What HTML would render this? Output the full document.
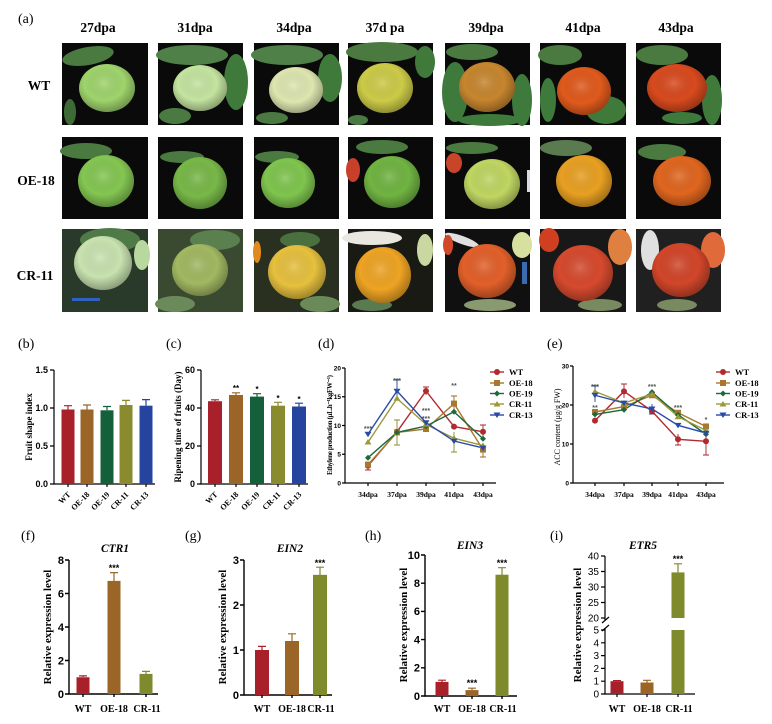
<!DOCTYPE html>
<html><head><meta charset="utf-8"><style>
html,body{margin:0;padding:0;background:#fff;}
svg{display:block;}
.s{font-family:"Liberation Serif",serif;}
.b{font-family:"Liberation Serif",serif;font-weight:bold;}
.t{font-family:"Liberation Sans",sans-serif;font-weight:bold;}
</style></head><body>
<svg width="772" height="724" viewBox="0 0 772 724" xmlns="http://www.w3.org/2000/svg">
<defs>
<radialGradient id="sh" cx="0.45" cy="0.4" r="0.6">
<stop offset="0" stop-color="#fff" stop-opacity="0.18"/>
<stop offset="0.6" stop-color="#000" stop-opacity="0"/>
<stop offset="1" stop-color="#000" stop-opacity="0.3"/>
</radialGradient>
</defs>
<rect width="772" height="724" fill="#fff"/>

<!-- (a) headers -->
<text x="18" y="23" class="s" font-size="14">(a)</text>
<g class="b" font-size="13.5" text-anchor="middle">
<text x="98" y="32">27dpa</text><text x="195" y="32">31dpa</text><text x="294" y="32">34dpa</text>
<text x="385" y="32">37d pa</text><text x="486" y="32">39dpa</text><text x="583" y="32">41dpa</text><text x="676" y="32">43dpa</text>
<text x="39" y="90">WT</text><text x="36" y="185">OE-18</text><text x="35" y="280">CR-11</text>
</g>

<!-- Row 1 -->
<g>
<rect x="62" y="43" width="86" height="82" fill="#0a0a0a"/>
<ellipse cx="88" cy="56" rx="26" ry="9" fill="#4a7a40" transform="rotate(-10 88 56)"/>
<ellipse cx="70" cy="112" rx="6" ry="13" fill="#3e6a36"/>
<ellipse cx="107" cy="88" rx="28" ry="24" fill="#9fd46c"/><ellipse cx="107" cy="88" rx="28" ry="24" fill="url(#sh)"/>

<rect x="158" y="43" width="85" height="82" fill="#0a0a0a"/>
<ellipse cx="192" cy="55" rx="36" ry="10" fill="#4f8048"/>
<ellipse cx="236" cy="82" rx="12" ry="28" fill="#3f7a3a"/>
<ellipse cx="175" cy="116" rx="16" ry="8" fill="#4a7a42"/>
<ellipse cx="200" cy="88" rx="27" ry="23" fill="#c4e4a0"/><ellipse cx="200" cy="88" rx="27" ry="23" fill="url(#sh)"/>

<rect x="254" y="43" width="85" height="82" fill="#0a0a0a"/>
<ellipse cx="287" cy="55" rx="36" ry="10" fill="#4f8048"/>
<ellipse cx="330" cy="78" rx="12" ry="24" fill="#3f7a3a"/>
<ellipse cx="272" cy="118" rx="16" ry="6" fill="#4a7a42"/>
<ellipse cx="296" cy="90" rx="27" ry="23" fill="#dde6b0"/><ellipse cx="296" cy="90" rx="27" ry="23" fill="url(#sh)"/>

<rect x="348" y="43" width="85" height="82" fill="#0a0a0a"/>
<ellipse cx="382" cy="52" rx="36" ry="10" fill="#4a7a40"/>
<ellipse cx="425" cy="62" rx="10" ry="16" fill="#3f7a3a"/>
<ellipse cx="358" cy="120" rx="10" ry="5" fill="#4a7a42"/>
<ellipse cx="385" cy="88" rx="28" ry="25" fill="#cccb48"/><ellipse cx="385" cy="88" rx="28" ry="25" fill="url(#sh)"/>

<rect x="445" y="43" width="85" height="82" fill="#0a0a0a"/>
<ellipse cx="455" cy="92" rx="13" ry="30" fill="#3d7a3c"/>
<ellipse cx="522" cy="100" rx="10" ry="26" fill="#3d7a3c"/>
<ellipse cx="472" cy="52" rx="26" ry="8" fill="#4a7a40"/>
<ellipse cx="490" cy="120" rx="32" ry="6" fill="#3d7a3c"/>
<ellipse cx="487" cy="87" rx="28" ry="25" fill="#c7862f"/><ellipse cx="487" cy="87" rx="28" ry="25" fill="url(#sh)"/>

<rect x="540" y="43" width="86" height="82" fill="#0a0a0a"/>
<ellipse cx="606" cy="110" rx="20" ry="14" fill="#3f7a3a"/>
<ellipse cx="560" cy="55" rx="22" ry="10" fill="#4a7a40"/>
<ellipse cx="548" cy="100" rx="8" ry="22" fill="#3d7a3c"/>
<ellipse cx="584" cy="91" rx="27" ry="24" fill="#e05a1c"/><ellipse cx="584" cy="91" rx="27" ry="24" fill="url(#sh)"/>

<rect x="636" y="43" width="85" height="82" fill="#0a0a0a"/>
<ellipse cx="712" cy="100" rx="10" ry="25" fill="#3f7a3a"/>
<ellipse cx="662" cy="55" rx="26" ry="10" fill="#4a7a40"/>
<ellipse cx="682" cy="118" rx="20" ry="6" fill="#3d7a3c"/>
<ellipse cx="677" cy="88" rx="30" ry="24" fill="#d84a1e"/><ellipse cx="677" cy="88" rx="30" ry="24" fill="url(#sh)"/>
</g>

<!-- Row 2 -->
<g>
<rect x="62" y="137" width="86" height="82" fill="#0a0a0a"/>
<ellipse cx="86" cy="151" rx="26" ry="8" fill="#4a7a40"/>
<ellipse cx="106" cy="181" rx="28" ry="26" fill="#84c652"/><ellipse cx="106" cy="181" rx="28" ry="26" fill="url(#sh)"/>

<rect x="158" y="137" width="85" height="82" fill="#0a0a0a"/>
<ellipse cx="182" cy="157" rx="22" ry="6" fill="#4a7a40"/>
<ellipse cx="200" cy="183" rx="27" ry="26" fill="#78b848"/><ellipse cx="200" cy="183" rx="27" ry="26" fill="url(#sh)"/>

<rect x="254" y="137" width="85" height="82" fill="#0a0a0a"/>
<ellipse cx="277" cy="157" rx="22" ry="6" fill="#4a7a40"/>
<ellipse cx="288" cy="183" rx="27" ry="25" fill="#7fc54e"/><ellipse cx="288" cy="183" rx="27" ry="25" fill="url(#sh)"/>

<rect x="348" y="137" width="85" height="82" fill="#0a0a0a"/>
<ellipse cx="353" cy="170" rx="7" ry="12" fill="#c8402a"/>
<ellipse cx="382" cy="147" rx="26" ry="7" fill="#4a7a40"/>
<ellipse cx="392" cy="182" rx="28" ry="26" fill="#70b442"/><ellipse cx="392" cy="182" rx="28" ry="26" fill="url(#sh)"/>

<rect x="445" y="137" width="85" height="82" fill="#0a0a0a"/>
<ellipse cx="454" cy="163" rx="8" ry="10" fill="#c8452a"/>
<ellipse cx="472" cy="148" rx="26" ry="6" fill="#4a7a40"/>
<rect x="527" y="170" width="3" height="22" fill="#d8d8e0"/>
<ellipse cx="492" cy="184" rx="28" ry="25" fill="#bfd662"/><ellipse cx="492" cy="184" rx="28" ry="25" fill="url(#sh)"/>

<rect x="540" y="137" width="86" height="82" fill="#0a0a0a"/>
<ellipse cx="566" cy="148" rx="26" ry="8" fill="#5a7a50"/>
<ellipse cx="584" cy="181" rx="28" ry="26" fill="#e8a022"/><ellipse cx="584" cy="181" rx="28" ry="26" fill="url(#sh)"/>

<rect x="636" y="137" width="85" height="82" fill="#0a0a0a"/>
<ellipse cx="662" cy="152" rx="24" ry="8" fill="#4a7a40"/>
<ellipse cx="682" cy="181" rx="29" ry="25" fill="#e0661f"/><ellipse cx="682" cy="181" rx="29" ry="25" fill="url(#sh)"/>
</g>

<!-- Row 3 -->
<g>
<rect x="62" y="229" width="86" height="83" fill="#2a3a2a"/>
<ellipse cx="110" cy="240" rx="30" ry="12" fill="#4f7a48"/>
<ellipse cx="142" cy="255" rx="8" ry="15" fill="#b8d8a0"/>
<rect x="72" y="298" width="28" height="3" fill="#3060c0"/>
<ellipse cx="103" cy="263" rx="29" ry="27" fill="#c8e2b0"/><ellipse cx="103" cy="263" rx="29" ry="27" fill="url(#sh)"/>

<rect x="158" y="229" width="85" height="83" fill="#3a4a30"/>
<ellipse cx="215" cy="240" rx="25" ry="10" fill="#5a8050"/>
<ellipse cx="175" cy="304" rx="20" ry="8" fill="#6a8a5a"/>
<ellipse cx="200" cy="270" rx="28" ry="26" fill="#a2b862"/><ellipse cx="200" cy="270" rx="28" ry="26" fill="url(#sh)"/>

<rect x="254" y="229" width="85" height="83" fill="#2a3020"/>
<ellipse cx="257" cy="252" rx="4" ry="11" fill="#e08a20"/>
<ellipse cx="300" cy="240" rx="20" ry="8" fill="#4a7040"/>
<ellipse cx="320" cy="304" rx="20" ry="8" fill="#6a8a5a"/>
<ellipse cx="297" cy="272" rx="29" ry="27" fill="#e6c03e"/><ellipse cx="297" cy="272" rx="29" ry="27" fill="url(#sh)"/>

<rect x="348" y="229" width="85" height="83" fill="#1a1a14"/>
<ellipse cx="372" cy="238" rx="30" ry="7" fill="#e8e8e0"/>
<ellipse cx="425" cy="250" rx="8" ry="16" fill="#c8d8a0"/>
<ellipse cx="372" cy="305" rx="20" ry="6" fill="#5a7a50"/>
<ellipse cx="383" cy="275" rx="28" ry="28" fill="#eea424"/><ellipse cx="383" cy="275" rx="28" ry="28" fill="url(#sh)"/>

<rect x="445" y="229" width="85" height="83" fill="#101010"/>
<ellipse cx="462" cy="240" rx="18" ry="4" fill="#e0e0e0" transform="rotate(20 462 240)"/>
<ellipse cx="522" cy="245" rx="10" ry="13" fill="#d8e0a0"/>
<rect x="522" y="262" width="5" height="22" fill="#3a6ab0"/>
<ellipse cx="448" cy="245" rx="5" ry="10" fill="#d04a2a"/>
<ellipse cx="490" cy="305" rx="26" ry="6" fill="#8a9a70"/>
<ellipse cx="487" cy="271" rx="29" ry="27" fill="#e2602a"/><ellipse cx="487" cy="271" rx="29" ry="27" fill="url(#sh)"/>

<rect x="540" y="229" width="86" height="83" fill="#181818"/>
<ellipse cx="549" cy="240" rx="10" ry="12" fill="#d04020"/>
<ellipse cx="620" cy="247" rx="12" ry="18" fill="#e08040"/>
<ellipse cx="600" cy="305" rx="22" ry="6" fill="#7a8a60"/>
<ellipse cx="583" cy="273" rx="30" ry="28" fill="#d64a2e"/><ellipse cx="583" cy="273" rx="30" ry="28" fill="url(#sh)"/>

<rect x="636" y="229" width="85" height="83" fill="#202020"/>
<ellipse cx="650" cy="250" rx="9" ry="20" fill="#e0e0e0"/>
<ellipse cx="713" cy="250" rx="12" ry="18" fill="#e06a3a"/>
<ellipse cx="677" cy="305" rx="20" ry="6" fill="#7a8a60"/>
<ellipse cx="681" cy="270" rx="29" ry="27" fill="#d2462a"/><ellipse cx="681" cy="270" rx="29" ry="27" fill="url(#sh)"/>
</g>

<!-- Panel labels -->
<g class="s" font-size="14">
<text x="18" y="348">(b)</text><text x="166" y="348">(c)</text><text x="318" y="348">(d)</text><text x="547" y="348">(e)</text>
<text x="21" y="540">(f)</text><text x="185" y="540">(g)</text><text x="365" y="540">(h)</text><text x="550" y="540">(i)</text>
</g>

<!-- Panel b -->
<g stroke="#000" stroke-width="1.2" fill="none">
<path d="M54,370 V484 H155"/>
<path d="M50,370H54 M50,408H54 M50,446H54 M50,484H54"/>
<path d="M68,484v3 M87,484v3 M107,484v3 M126,484v3 M146,484v3"/>
</g>
<g class="t" font-size="9" text-anchor="end">
<text x="48" y="373">1.5</text><text x="48" y="411">1.0</text><text x="48" y="449">0.5</text><text x="48" y="487">0.0</text>
</g>
<rect x="61.5" y="409.5" width="13" height="74.5" fill="#a8202a"/>
<rect x="80.5" y="409.5" width="13" height="74.5" fill="#9a6526"/>
<rect x="100.5" y="410.3" width="13" height="73.7" fill="#14603a"/>
<rect x="119.5" y="405" width="13" height="79" fill="#8a8a2e"/>
<rect x="139.5" y="405.7" width="13" height="78.3" fill="#2444a0"/>
<g stroke-width="1.2">
<path d="M68,409.5V405.7 M64,405.7H72" stroke="#a8202a"/>
<path d="M87,409.5V405 M83,405H91" stroke="#9a6526"/>
<path d="M107,410.3V406.5 M103,406.5H111" stroke="#14603a"/>
<path d="M126,405V400.4 M122,400.4H130" stroke="#8a8a2e"/>
<path d="M146,405.7V399.6 M142,399.6H150" stroke="#2444a0"/>
</g>
<text class="b" font-size="9" transform="translate(32,427) rotate(-90)" text-anchor="middle">Fruit shape index</text>
<g class="b" font-size="8" text-anchor="end">
<text transform="translate(71,495) rotate(-45)">WT</text>
<text transform="translate(90,495) rotate(-45)">OE-18</text>
<text transform="translate(110,495) rotate(-45)">OE-19</text>
<text transform="translate(129,495) rotate(-45)">CR-11</text>
<text transform="translate(149,495) rotate(-45)">CR-13</text>
</g>

<!-- Panel c -->
<g stroke="#000" stroke-width="1.2" fill="none">
<path d="M201,370 V484 H308"/>
<path d="M197,370H201 M197,408H201 M197,446H201 M197,484H201"/>
<path d="M215,484v3 M236,484v3 M257,484v3 M278,484v3 M299,484v3"/>
</g>
<g class="t" font-size="9" text-anchor="end">
<text x="195" y="373">60</text><text x="195" y="411">40</text><text x="195" y="449">20</text><text x="195" y="487">0</text>
</g>
<rect x="208" y="401.2" width="14" height="82.8" fill="#a8202a"/>
<rect x="229" y="395" width="14" height="89" fill="#9a6526"/>
<rect x="250" y="396.6" width="14" height="87.4" fill="#14603a"/>
<rect x="271" y="405.7" width="14" height="78.3" fill="#8a8a2e"/>
<rect x="292" y="406.5" width="14" height="77.5" fill="#2444a0"/>
<g stroke-width="1.2">
<path d="M215,401V399.8 M211,399.8H219" stroke="#a8202a"/>
<path d="M236,395V392.8 M232,392.8H240" stroke="#9a6526"/>
<path d="M257,396.6V393.7 M253,393.7H261" stroke="#14603a"/>
<path d="M278,405.7V402.3 M274,402.3H282" stroke="#8a8a2e"/>
<path d="M299,406.5V403.2 M295,403.2H303" stroke="#2444a0"/>
</g>
<g class="t" font-size="8" text-anchor="middle">
<text x="236" y="391">**</text><text x="257" y="392">*</text><text x="278" y="401">*</text><text x="299" y="402">*</text>
</g>
<text class="b" font-size="9" transform="translate(181,427) rotate(-90)" text-anchor="middle">Ripening time of fruits (Day)</text>
<g class="b" font-size="8" text-anchor="end">
<text transform="translate(218,495) rotate(-45)">WT</text>
<text transform="translate(239,495) rotate(-45)">OE-18</text>
<text transform="translate(260,495) rotate(-45)">OE-19</text>
<text transform="translate(281,495) rotate(-45)">CR-11</text>
<text transform="translate(302,495) rotate(-45)">CR-13</text>
</g>

<!-- Panel d -->
<g stroke="#000" stroke-width="1.2" fill="none">
<path d="M345,368 V483 H496"/>
<path d="M342,368H345 M342,396.75H345 M342,425.5H345 M342,454.25H345 M342,483H345"/>
<path d="M368,483v3 M397,483v3 M426,483v3 M454,483v3 M483,483v3"/>
</g>
<g class="t" font-size="6.5" text-anchor="end">
<text x="341" y="370.5">20</text><text x="341" y="399">15</text><text x="341" y="428">10</text><text x="341" y="456.5">5</text><text x="341" y="485.5">0</text>
</g>
<g class="b" font-size="7.5" text-anchor="middle">
<text x="368" y="497">34dpa</text><text x="397" y="497">37dpa</text><text x="426" y="497">39dpa</text><text x="454" y="497">41dpa</text><text x="483" y="497">43dpa</text>
</g>
<text class="b" font-size="7" transform="translate(332,425) rotate(-90)" text-anchor="middle" textLength="100">Ethylene production (μL.h⁻¹kgFW⁻¹)</text>
<!-- error bars d -->
<g stroke-width="0.9" fill="none">
<path d="M397,420V445 M394,420H400 M394,445H400" stroke="#8a8a2e"/>
<path d="M397,380V398 M394,380H400" stroke="#2444a0"/>
<path d="M426,387V395 M423,387H429" stroke="#a8202a"/>
<path d="M454,396V412 M451,396H457" stroke="#9a6526"/>
<path d="M454,432V452 M451,452H457" stroke="#8a8a2e"/>
<path d="M483,425V440 M480,425H486" stroke="#a8202a"/>
<path d="M483,448V457 M480,457H486" stroke="#9a6526"/>
<path d="M368,462V470 M365,470H371" stroke="#a8202a"/>
</g>
<g fill="none" stroke-width="1.4">
<polyline points="368,465.75 397,431.8 426,391 454,426.6 483,431.8" stroke="#b02a2e"/>
<polyline points="368,464.6 397,432.4 426,429 454,403.6 483,449.6" stroke="#a8782e"/>
<polyline points="368,457.7 397,432.4 426,426.1 454,411.7 483,438.7" stroke="#1c6a3c"/>
<polyline points="368,442.2 397,398.5 426,424.4 454,438.2 483,445.6" stroke="#9a9a3a"/>
<polyline points="368,434.1 397,391 426,422.6 454,441 483,447.9" stroke="#2a4aa8"/>
</g>
<g fill="#b02a2e"><circle cx="368" cy="465.75" r="3"/><circle cx="397" cy="431.8" r="3"/><circle cx="426" cy="391" r="3"/><circle cx="454" cy="426.6" r="3"/><circle cx="483" cy="431.8" r="3"/></g>
<g fill="#a8782e"><rect x="365" y="461.6" width="6" height="6"/><rect x="394" y="429.4" width="6" height="6"/><rect x="423" y="426" width="6" height="6"/><rect x="451" y="400.6" width="6" height="6"/><rect x="480" y="446.6" width="6" height="6"/></g>
<g fill="#1c6a3c"><path d="M368,454.7l3,3l-3,3l-3,-3z M397,429.4l3,3l-3,3l-3,-3z M426,423.1l3,3l-3,3l-3,-3z M454,408.7l3,3l-3,3l-3,-3z M483,435.7l3,3l-3,3l-3,-3z"/></g>
<g fill="#9a9a3a"><path d="M368,439l3.5,5.5h-7z M397,395.3l3.5,5.5h-7z M426,421.2l3.5,5.5h-7z M454,435l3.5,5.5h-7z M483,442.4l3.5,5.5h-7z"/></g>
<g fill="#2a4aa8"><path d="M368,437.3l3.5,-5.5h-7z M397,394.2l3.5,-5.5h-7z M426,425.8l3.5,-5.5h-7z M454,444.2l3.5,-5.5h-7z M483,451.1l3.5,-5.5h-7z"/></g>
<g class="t" font-size="7" text-anchor="middle" fill="#555">
<text x="368" y="431">***</text><text x="397" y="383">***</text><text x="426" y="413">***</text><text x="426" y="421">***</text><text x="454" y="388">**</text>
</g>
<!-- legend d -->
<g stroke-width="1.4">
<path d="M490,372H504" stroke="#b02a2e"/><path d="M490,383H504" stroke="#a8782e"/><path d="M490,393.5H504" stroke="#1c6a3c"/><path d="M490,404H504" stroke="#9a9a3a"/><path d="M490,415H504" stroke="#2a4aa8"/>
</g>
<circle cx="497" cy="372" r="3" fill="#b02a2e"/><rect x="494" y="380" width="6" height="6" fill="#a8782e"/>
<path d="M497,390.5l3,3l-3,3l-3,-3z" fill="#1c6a3c"/><path d="M497,401l3.5,5.5h-7z" fill="#9a9a3a"/><path d="M497,418l3.5,-5.5h-7z" fill="#2a4aa8"/>
<g class="b" font-size="8.5">
<text x="509" y="375">WT</text><text x="509" y="386">OE-18</text><text x="509" y="396.5">OE-19</text><text x="509" y="407">CR-11</text><text x="509" y="418">CR-13</text>
</g>

<!-- Panel e -->
<g stroke="#000" stroke-width="1.2" fill="none">
<path d="M573,366 V483 H724"/>
<path d="M570,366H573 M570,405H573 M570,444H573 M570,483H573"/>
<path d="M595,483v3 M624,483v3 M652,483v3 M678,483v3 M706,483v3"/>
</g>
<g class="t" font-size="6.5" text-anchor="end">
<text x="569" y="368.5">30</text><text x="569" y="407.5">20</text><text x="569" y="446.5">10</text><text x="569" y="485.5">0</text>
</g>
<g class="b" font-size="7.5" text-anchor="middle">
<text x="595" y="497">34dpa</text><text x="624" y="497">37dpa</text><text x="652" y="497">39dpa</text><text x="678" y="497">41dpa</text><text x="706" y="497">43dpa</text>
</g>
<text class="s" font-size="8" transform="translate(560,427) rotate(-90)" text-anchor="middle" textLength="77">ACC content (μg/g FW)</text>
<g stroke-width="0.9" fill="none">
<path d="M624,384V398 M621,384H627" stroke="#a8202a"/>
<path d="M678,434V445 M675,445H681" stroke="#a8202a"/>
<path d="M706,430V455 M703,455H709" stroke="#a8202a"/>
<path d="M595,386V402 M592,386H598" stroke="#2444a0"/>
<path d="M652,404V414 M649,414H655" stroke="#2444a0"/>
</g>
<g fill="none" stroke-width="1.4">
<polyline points="595,420.6 624,391.35 652,411.2 678,439.3 706,441.3" stroke="#b02a2e"/>
<polyline points="595,412 624,406.6 652,395.25 678,412.8 706,426.45" stroke="#a8782e"/>
<polyline points="595,414.4 624,409.7 652,392.1 678,414.75 706,434.25" stroke="#1c6a3c"/>
<polyline points="595,391.35 624,403 652,394 678,416.7 706,430.35" stroke="#9a9a3a"/>
<polyline points="595,395.25 624,403 652,408.9 678,425.3 706,433.1" stroke="#2a4aa8"/>
</g>
<g fill="#b02a2e"><circle cx="595" cy="420.6" r="3"/><circle cx="624" cy="391.35" r="3"/><circle cx="652" cy="411.2" r="3"/><circle cx="678" cy="439.3" r="3"/><circle cx="706" cy="441.3" r="3"/></g>
<g fill="#a8782e"><rect x="592" y="409" width="6" height="6"/><rect x="621" y="403.6" width="6" height="6"/><rect x="649" y="392.25" width="6" height="6"/><rect x="675" y="409.8" width="6" height="6"/><rect x="703" y="423.45" width="6" height="6"/></g>
<g fill="#1c6a3c"><path d="M595,411.4l3,3l-3,3l-3,-3z M624,406.7l3,3l-3,3l-3,-3z M652,389.1l3,3l-3,3l-3,-3z M678,411.75l3,3l-3,3l-3,-3z M706,431.25l3,3l-3,3l-3,-3z"/></g>
<g fill="#9a9a3a"><path d="M595,388.5l3.5,5.5h-7z M624,400.1l3.5,5.5h-7z M652,391.1l3.5,5.5h-7z M678,413.8l3.5,5.5h-7z M706,427.4l3.5,5.5h-7z"/></g>
<g fill="#2a4aa8"><path d="M595,398.4l3.5,-5.5h-7z M624,406.1l3.5,-5.5h-7z M652,412l3.5,-5.5h-7z M678,428.4l3.5,-5.5h-7z M706,436.2l3.5,-5.5h-7z"/></g>
<g class="t" font-size="7" text-anchor="middle" fill="#555">
<text x="595" y="389">***</text><text x="595" y="410">**</text><text x="652" y="389">***</text><text x="678" y="410">***</text><text x="706" y="422">*</text>
</g>
<!-- legend e -->
<g stroke-width="1.4">
<path d="M716,372H730" stroke="#b02a2e"/><path d="M716,383H730" stroke="#a8782e"/><path d="M716,393.5H730" stroke="#1c6a3c"/><path d="M716,404H730" stroke="#9a9a3a"/><path d="M716,415H730" stroke="#2a4aa8"/>
</g>
<circle cx="723" cy="372" r="3" fill="#b02a2e"/><rect x="720" y="380" width="6" height="6" fill="#a8782e"/>
<path d="M723,390.5l3,3l-3,3l-3,-3z" fill="#1c6a3c"/><path d="M723,401l3.5,5.5h-7z" fill="#9a9a3a"/><path d="M723,418l3.5,-5.5h-7z" fill="#2a4aa8"/>
<g class="b" font-size="8.5">
<text x="735" y="375">WT</text><text x="735" y="386">OE-18</text><text x="735" y="396.5">OE-19</text><text x="735" y="407">CR-11</text><text x="735" y="418">CR-13</text>
</g>

<!-- Panel f -->
<text x="115" y="552" class="b" font-size="11.5" font-style="italic" text-anchor="middle">CTR1</text>
<g stroke="#000" stroke-width="1.4" fill="none">
<path d="M69,560 V694 H158"/>
<path d="M65,560H69 M65,593.5H69 M65,627H69 M65,660.5H69 M65,694H69"/>
<path d="M83,694v3 M114,694v3 M146,694v3"/>
</g>
<g class="t" font-size="11" text-anchor="end">
<text x="64" y="564">8</text><text x="64" y="597.5">6</text><text x="64" y="631">4</text><text x="64" y="664.5">2</text><text x="64" y="698">0</text>
</g>
<rect x="76.5" y="677.25" width="13" height="16.75" fill="#a8202a"/>
<rect x="107.5" y="580.9" width="13" height="113.1" fill="#9a6526"/>
<rect x="139.5" y="673.9" width="13" height="20.1" fill="#7f8a2c"/>
<g stroke-width="1.2">
<path d="M83,677V675.9 M79,675.9H87" stroke="#a8202a"/>
<path d="M114,581V572.6 M110,572.6H118" stroke="#9a6526"/>
<path d="M146,674V671.4 M142,671.4H150" stroke="#7f8a2c"/>
</g>
<text x="114" y="571" class="t" font-size="9" text-anchor="middle">***</text>
<text class="b" font-size="11" transform="translate(51,627) rotate(-90)" text-anchor="middle">Relative expression level</text>
<g class="b" font-size="10" text-anchor="middle">
<text x="83" y="712">WT</text><text x="114" y="712">OE-18</text><text x="147" y="712">CR-11</text>
</g>

<!-- Panel g -->
<text x="290" y="552" class="b" font-size="11.5" font-style="italic" text-anchor="middle">EIN2</text>
<g stroke="#000" stroke-width="1.4" fill="none">
<path d="M244,560 V695 H332"/>
<path d="M240,560H244 M240,605H244 M240,650H244 M240,695H244"/>
<path d="M262,695v3 M292,695v3 M320,695v3"/>
</g>
<g class="t" font-size="11" text-anchor="end">
<text x="239" y="564">3</text><text x="239" y="609">2</text><text x="239" y="654">1</text><text x="239" y="699">0</text>
</g>
<rect x="255" y="650" width="14" height="45" fill="#a8202a"/>
<rect x="285" y="641" width="14" height="54" fill="#9a6526"/>
<rect x="313" y="574.85" width="14" height="120.15" fill="#7f8a2c"/>
<g stroke-width="1.2">
<path d="M262,650V646.4 M258,646.4H266" stroke="#a8202a"/>
<path d="M292,641V633.8 M288,633.8H296" stroke="#9a6526"/>
<path d="M320,575V567.2 M316,567.2H324" stroke="#7f8a2c"/>
</g>
<text x="320" y="566" class="t" font-size="9" text-anchor="middle">***</text>
<text class="b" font-size="11" transform="translate(226,627) rotate(-90)" text-anchor="middle">Relative expression level</text>
<g class="b" font-size="10" text-anchor="middle">
<text x="262" y="712">WT</text><text x="292" y="712">OE-18</text><text x="321" y="712">CR-11</text>
</g>

<!-- Panel h -->
<text x="470" y="549" class="b" font-size="11.5" font-style="italic" text-anchor="middle">EIN3</text>
<g stroke="#000" stroke-width="1.4" fill="none">
<path d="M425,555 V696 H517"/>
<path d="M421,555H425 M421,583.2H425 M421,611.4H425 M421,639.6H425 M421,667.8H425 M421,696H425"/>
<path d="M442,696v3 M472,696v3 M502,696v3"/>
</g>
<g class="t" font-size="11" text-anchor="end">
<text x="420" y="559">10</text><text x="420" y="587">8</text><text x="420" y="615">6</text><text x="420" y="643.5">4</text><text x="420" y="671.5">2</text><text x="420" y="700">0</text>
</g>
<rect x="435.5" y="681.9" width="13" height="14.1" fill="#a8202a"/>
<rect x="465.5" y="690.1" width="13" height="5.9" fill="#9a6526"/>
<rect x="495.5" y="574.7" width="13" height="121.3" fill="#7f8a2c"/>
<g stroke-width="1.2">
<path d="M442,682V680.2 M438,680.2H446" stroke="#a8202a"/>
<path d="M472,690V688.2 M468,688.2H476" stroke="#9a6526"/>
<path d="M502,575V567.7 M498,567.7H506" stroke="#7f8a2c"/>
</g>
<text x="472" y="686" class="t" font-size="9" text-anchor="middle">***</text>
<text x="502" y="566" class="t" font-size="9" text-anchor="middle">***</text>
<text class="b" font-size="11" transform="translate(407,625) rotate(-90)" text-anchor="middle">Relative expression level</text>
<g class="b" font-size="10" text-anchor="middle">
<text x="442" y="712">WT</text><text x="472" y="712">OE-18</text><text x="503" y="712">CR-11</text>
</g>

<!-- Panel i -->
<text x="643" y="549" class="b" font-size="11.5" font-style="italic" text-anchor="middle">ETR5</text>
<g stroke="#000" stroke-width="1.2" fill="none">
<path d="M605,556 V620 M605,628 V694 H695"/>
<path d="M601,556H605 M601,571.5H605 M601,587H605 M601,602.5H605 M601,618H605"/>
<path d="M601,630H605 M601,642.8H605 M601,655.6H605 M601,668.4H605 M601,681.2H605 M601,694H605"/>
<path d="M602,623L609,617 M602,631L609,625"/>
<path d="M617,694v3 M647,694v3 M678,694v3"/>
</g>
<g font-family="Liberation Sans, sans-serif" font-size="10" text-anchor="end">
<text x="599" y="559.5">40</text><text x="599" y="575">35</text><text x="599" y="590.5">30</text><text x="599" y="606">25</text><text x="599" y="621.5">20</text>
<text x="599" y="633.5">5</text><text x="599" y="646.3">4</text><text x="599" y="659.1">3</text><text x="599" y="671.9">2</text><text x="599" y="684.7">1</text><text x="599" y="697.5">0</text>
</g>
<rect x="610.5" y="681.2" width="13" height="12.8" fill="#a8202a"/>
<rect x="640.5" y="682.5" width="13" height="11.5" fill="#9a6526"/>
<rect x="671.5" y="630" width="13" height="64" fill="#7f8a2c"/>
<rect x="671.5" y="572.4" width="13" height="45.6" fill="#7f8a2c"/>
<g stroke-width="1.2">
<path d="M617,681V680.6 M613,680.6H621" stroke="#a8202a"/>
<path d="M647,682.5V680.3 M643,680.3H651" stroke="#9a6526"/>
<path d="M678,572.4V563.8 M674,563.8H682" stroke="#7f8a2c"/>
</g>
<text x="678" y="562" class="t" font-size="9" text-anchor="middle">***</text>
<text class="b" font-size="11" transform="translate(581,625) rotate(-90)" text-anchor="middle">Relative expression level</text>
<g class="b" font-size="10" text-anchor="middle">
<text x="617" y="712">WT</text><text x="647" y="712">OE-18</text><text x="679" y="712">CR-11</text>
</g>
</svg>
</body></html>
